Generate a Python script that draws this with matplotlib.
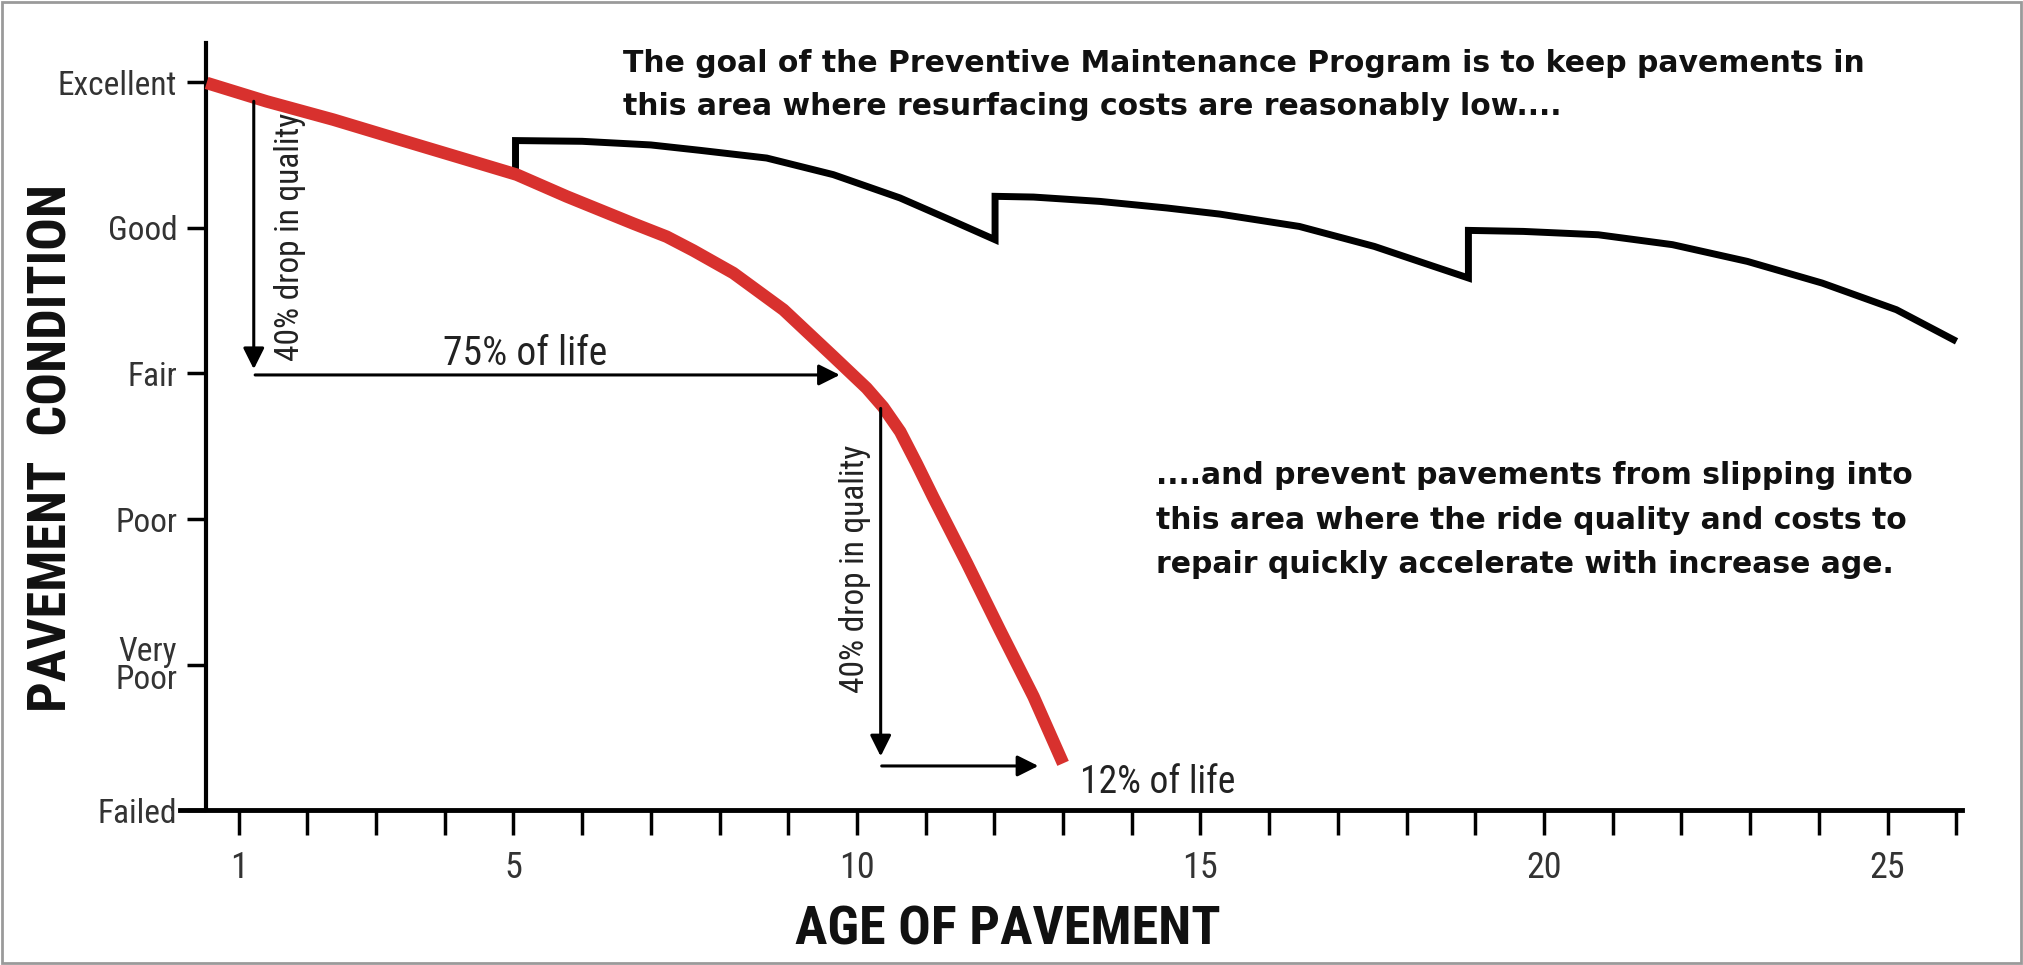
import matplotlib
matplotlib.use("Agg")
import matplotlib.pyplot as plt
from matplotlib.patches import Rectangle

plt.rcParams['font.family'] = ['Roboto Condensed', 'IBM Plex Sans Condensed', 'DejaVu Sans']

# condition scale: 0 = Failed ... 5 = Excellent
cond_labels = ['Failed', 'Very\nPoor', 'Poor', 'Fair', 'Good', 'Excellent']
age_ticks = list(range(1, 27))
age_labels = ['1', '5', '10', '15', '20', '25']

# red curve: pavement without maintenance
red_age = [0.534, 1.408, 2.377, 3.348, 4.319, 5.047, 5.775, 6.744, 7.23, 7.617,
           8.20, 8.93, 9.655, 10.14, 10.38, 10.63, 10.87, 11.11, 11.60, 12.08,
           12.57, 13.00]
red_cond = [4.996, 4.869, 4.744, 4.606, 4.469, 4.366, 4.216, 4.03, 3.94, 3.845,
            3.690, 3.438, 3.117, 2.90, 2.77, 2.600, 2.38, 2.150, 1.697, 1.238,
            0.780, 0.322]

# black curve: preventive maintenance (jumps up at each treatment)
pm_age = [5.03, 5.03, 6.0, 7.0, 7.715, 8.686, 9.655, 10.626, 11.354, 12.01,
          12.01, 12.57, 13.54, 14.51, 15.28, 16.44, 17.53, 18.40, 18.90,
          18.90, 19.70, 20.79, 21.87, 22.96, 24.05, 25.13, 25.96]
pm_cond = [4.40, 4.60, 4.595, 4.57, 4.533, 4.48, 4.366, 4.206, 4.056, 3.919,
           4.217, 4.212, 4.182, 4.137, 4.095, 4.010, 3.873, 3.735, 3.656,
           3.983, 3.976, 3.953, 3.885, 3.770, 3.621, 3.438, 3.232]

fig = plt.figure(figsize=(20.23, 9.65), dpi=100)
ax = fig.add_axes([0.0891, 0.1604, 0.8806, 0.795])
ax.set_xlim(0.15, 26.08)
ax.set_ylim(0, 5.27)

for s in ['top', 'right']:
    ax.spines[s].set_visible(False)
ax.spines['left'].set_position(('data', 0.53))
ax.spines['left'].set_linewidth(3)
ax.spines['bottom'].set_linewidth(3.5)

ax.set_yticks(range(6))
ax.set_yticklabels(cond_labels, fontsize=24, color='#333333', linespacing=0.85)
ax.tick_params(axis='y', length=14, width=2.5, pad=7)
ax.set_xticks(age_ticks)
ax.set_xticklabels([str(a) if str(a) in age_labels else '' for a in age_ticks],
                   fontsize=26, color='#333333')
ax.tick_params(axis='x', length=18, width=2.5, pad=11)

ax.plot(red_age, red_cond, color='#d8312e', lw=9, solid_capstyle='butt',
        solid_joinstyle='round', zorder=3)
ax.plot(pm_age, pm_cond, color='black', lw=5, solid_joinstyle='miter', zorder=2)

arrow = dict(arrowstyle='-|>', color='black', lw=2.2, mutation_scale=32,
             shrinkA=0, shrinkB=0)
ax.annotate('', xy=(1.22, 3.03), xytext=(1.22, 4.87), arrowprops=arrow)
ax.annotate('', xy=(9.75, 2.99), xytext=(1.24, 2.99), arrowprops=arrow)
ax.annotate('', xy=(10.345, 0.37), xytext=(10.345, 2.76), arrowprops=arrow)
ax.annotate('', xy=(12.64, 0.304), xytext=(10.36, 0.304), arrowprops=arrow)

ax.text(1.75, 3.94, '40% drop in quality', rotation=90, fontsize=24,
        ha='center', va='center', color='#222222')
ax.text(9.97, 1.66, '40% drop in quality', rotation=90, fontsize=24,
        ha='center', va='center', color='#222222')
ax.text(5.17, 3.06, '75% of life', fontsize=28.5, ha='center', va='baseline', color='#222222')
ax.text(13.25, 0.12, '12% of life', fontsize=27, ha='left', va='baseline', color='#222222')

top_lines = ['The goal of the Preventive Maintenance Program is to keep pavements in',
             'this area where resurfacing costs are reasonably low....']
for i, line in enumerate(top_lines):
    ax.text(6.59, 5.07 - 0.295 * i, line, fontsize=21.5, fontweight='bold',
            family=['DejaVu Sans'], ha='left', va='baseline', color='#111111',
            clip_on=False)

right_lines = ['....and prevent pavements from slipping into',
               'this area where the ride quality and costs to',
               'repair quickly accelerate with increase age.']
for i, line in enumerate(right_lines):
    ax.text(14.35, 2.24 - 0.305 * i, line, fontsize=21.5, fontweight='bold',
            family=['DejaVu Sans'], ha='left', va='baseline', color='#111111')

fig.text(52 / 2023, 1 - 448 / 965, 'PAVEMENT  CONDITION', rotation=90, fontsize=39,
         fontweight='bold', ha='center', va='center', color='#111111')
fig.text(1008 / 2023, 1 - 930 / 965, 'AGE OF PAVEMENT', fontsize=39,
         fontweight='bold', ha='center', va='center', color='#111111')

fig.patches.append(Rectangle((0.001, 0.002), 0.998, 0.996, transform=fig.transFigure,
                             fill=False, edgecolor='#9a9a9a', lw=2))

fig.savefig('out.png', dpi=100, facecolor='white')
